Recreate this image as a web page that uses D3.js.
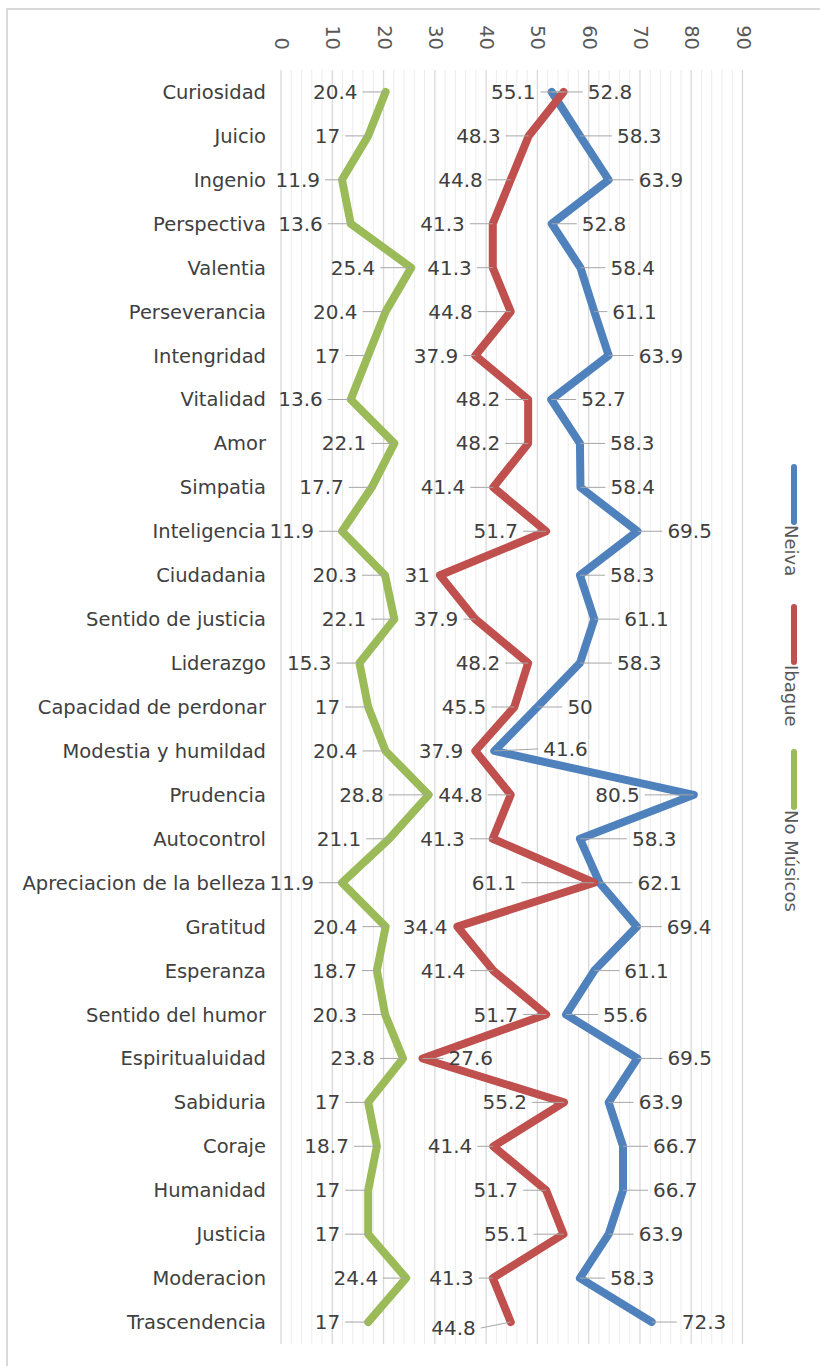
<!DOCTYPE html>
<html>
<head>
<meta charset="utf-8">
<script src="https://cdn.jsdelivr.net/npm/d3@7"></script>
<style>
  html, body { margin: 0; padding: 0; background: #fff; }
  svg { display: block; }
  text { font-family: "DejaVu Sans", sans-serif; }
</style>
</head>
<body>
<svg id="chart" width="820" height="1366"></svg>
<script>
// ---------- data ----------
const categories = [
  "Curiosidad", "Juicio", "Ingenio", "Perspectiva", "Valentia", "Perseverancia",
  "Intengridad", "Vitalidad", "Amor", "Simpatia", "Inteligencia", "Ciudadania",
  "Sentido de justicia", "Liderazgo", "Capacidad de perdonar", "Modestia y humildad",
  "Prudencia", "Autocontrol", "Apreciacion de la belleza", "Gratitud", "Esperanza",
  "Sentido del humor", "Espiritualuidad", "Sabiduria", "Coraje", "Humanidad",
  "Justicia", "Moderacion", "Trascendencia"
];
const neiva = [52.8, 58.3, 63.9, 52.8, 58.4, 61.1, 63.9, 52.7, 58.3, 58.4, 69.5, 58.3,
  61.1, 58.3, 50, 41.6, 80.5, 58.3, 62.1, 69.4, 61.1, 55.6, 69.5, 63.9, 66.7, 66.7,
  63.9, 58.3, 72.3];
const ibague = [55.1, 48.3, 44.8, 41.3, 41.3, 44.8, 37.9, 48.2, 48.2, 41.4, 51.7, 31,
  37.9, 48.2, 45.5, 37.9, 44.8, 41.3, 61.1, 34.4, 41.4, 51.7, 27.6, 55.2, 41.4, 51.7,
  55.1, 41.3, 44.8];
const noMusicos = [20.4, 17, 11.9, 13.6, 25.4, 20.4, 17, 13.6, 22.1, 17.7, 11.9, 20.3,
  22.1, 15.3, 17, 20.4, 28.8, 21.1, 11.9, 20.4, 18.7, 20.3, 23.8, 17, 18.7, 17, 17,
  24.4, 17];
const seriesNames = ["Neiva", "Ibague", "No Músicos"];
const tickValues = [0, 10, 20, 30, 40, 50, 60, 70, 80, 90];

// ---------- style / layout ----------
const colors = { "Neiva": "#4f81bd", "Ibague": "#c0504d", "No Músicos": "#9bbb59" };
const defaultSide = { "Neiva": "right", "Ibague": "left", "No Músicos": "left" };
// manual data-label placement tweaks (as in the original chart)
const labelTweaks = {
  "Neiva|Prudencia": { side: "left", gap: 54 },
  "Neiva|Modestia y humildad": { gap: 49, dy: -2 },
  "Neiva|Autocontrol": { gap: 52 },
  "Neiva|Perseverancia": { gap: 18 },
  "Neiva|Juicio": { gap: 37 },
  "Neiva|Liderazgo": { gap: 37 },
  "Neiva|Apreciacion de la belleza": { gap: 38 },
  "Neiva|Sentido del humor": { gap: 37 },
  "Neiva|Curiosidad": { gap: 36 },
  "Ibague|Espiritualuidad": { side: "right", gap: 26 },
  "Ibague|Ciudadania": { gap: 10 },
  "Ibague|Gratitud": { gap: 10 },
  "Ibague|Modestia y humildad": { gap: 12 },
  "Ibague|Intengridad": { gap: 17 },
  "Ibague|Sentido de justicia": { gap: 17 },
  "Ibague|Apreciacion de la belleza": { gap: 78 },
  "Ibague|Perseverancia": { gap: 38 },
  "Ibague|Sabiduria": { gap: 37 },
  "Ibague|Justicia": { gap: 35 },
  "Ibague|Moderacion": { gap: 19 },
  "Ibague|Coraje": { gap: 21 },
  "Ibague|Valentia": { gap: 21 },
  "Ibague|Trascendencia": { gap: 35, dy: 6 },
  "No Músicos|Prudencia": { gap: 45 },
  "No Músicos|Valentia": { gap: 36 },
  "No Músicos|Esperanza": { gap: 20 },
  "No Músicos|Ingenio": { gap: 22 }
};

const svg = d3.select("#chart");

// chart frame
svg.append("path")
  .attr("d", "M7,1366 L7,9 L820,9")
  .attr("fill", "none")
  .attr("stroke", "#d9d9d9")
  .attr("stroke-width", 2);

const x = d3.scaleLinear().domain([0, 90]).range([281, 742.5]);
const y = d3.scalePoint().domain(categories).range([70, 1344]).padding(0.5);
const yTop = 70, yBot = 1344;

// minor gridlines every 2
const minor = d3.range(0, 91, 2).filter(v => v % 10 !== 0);
svg.append("g").selectAll("line").data(minor).join("line")
  .attr("x1", d => x(d)).attr("x2", d => x(d))
  .attr("y1", yTop).attr("y2", yBot)
  .attr("stroke", "#ececec").attr("stroke-width", 1);

// major gridlines
svg.append("g").selectAll("line").data(tickValues).join("line")
  .attr("x1", d => x(d)).attr("x2", d => x(d))
  .attr("y1", yTop).attr("y2", yBot)
  .attr("stroke", "#d9d9d9").attr("stroke-width", 1.3);

// value axis (top), labels rotated
const axisG = svg.append("g").attr("transform", "translate(0,50)")
  .call(d3.axisTop(x).tickValues(tickValues).tickSize(0).tickPadding(0));
axisG.select(".domain").remove();
axisG.selectAll("text")
  .attr("transform", "rotate(90)")
  .attr("x", 0).attr("y", 0)
  .attr("dy", null)
  .attr("text-anchor", "end")
  .attr("dominant-baseline", "central")
  .attr("fill", "#595959")
  .style("font-size", "19.5px")
  .style("font-family", "DejaVu Sans, sans-serif");

// category axis (left)
const catG = svg.append("g").attr("transform", "translate(266,0)")
  .call(d3.axisLeft(y).tickSize(0).tickPadding(0));
catG.select(".domain").remove();
catG.selectAll("text")
  .attr("dy", null)
  .attr("dominant-baseline", "central")
  .attr("fill", "#404040")
  .style("font-size", "19.5px")
  .style("font-family", "DejaVu Sans, sans-serif");

// series
const series = [
  { name: "Neiva", values: neiva },
  { name: "Ibague", values: ibague },
  { name: "No Músicos", values: noMusicos }
];

const line = d3.line()
  .x(d => x(d.v))
  .y(d => y(d.c));

series.forEach(s => {
  const pts = categories.map((c, i) => ({ c, v: s.values[i] }));
  svg.append("path")
    .datum(pts)
    .attr("d", line)
    .attr("fill", "none")
    .attr("stroke", colors[s.name])
    .attr("stroke-width", 8)
    .attr("stroke-linejoin", "round")
    .attr("stroke-linecap", "round");
});

// data labels + leader lines
const labelG = svg.append("g");
series.forEach(s => {
  categories.forEach((c, i) => {
    const v = s.values[i];
    const tw = labelTweaks[s.name + "|" + c] || {};
    const side = tw.side || defaultSide[s.name];
    const gap = tw.gap != null ? tw.gap : (side === "right" ? 30 : 28);
    const dy = tw.dy || 0;
    const px = x(v), py = y(c);
    const lx = side === "right" ? px + gap : px - gap;
    const ly = py + dy;
    if (gap > 15) {
      labelG.append("line")
        .attr("x1", px).attr("y1", py)
        .attr("x2", side === "right" ? lx - 5 : lx + 5).attr("y2", ly)
        .attr("stroke", "#a6a6a6").attr("stroke-width", 1);
    }
    labelG.append("text")
      .attr("x", lx).attr("y", ly)
      .attr("text-anchor", side === "right" ? "start" : "end")
      .attr("dominant-baseline", "central")
      .attr("fill", "#404040")
      .style("font-size", "20px")
      .text(v);
  });
});

// legend (vertical, rotated text)
const legendTop = [467, 607, 752];
const legendG = svg.append("g");
seriesNames.forEach((n, i) => {
  legendG.append("line")
    .attr("x1", 794).attr("x2", 794)
    .attr("y1", legendTop[i]).attr("y2", legendTop[i] + 55)
    .attr("stroke", colors[n]).attr("stroke-width", 6)
    .attr("stroke-linecap", "round");
  legendG.append("text")
    .attr("transform", `translate(791,${legendTop[i] + 58}) rotate(90)`)
    .attr("text-anchor", "start")
    .attr("dominant-baseline", "central")
    .attr("fill", "#595959")
    .style("font-size", "18px")
    .text(n);
});
</script>
</body>
</html>
